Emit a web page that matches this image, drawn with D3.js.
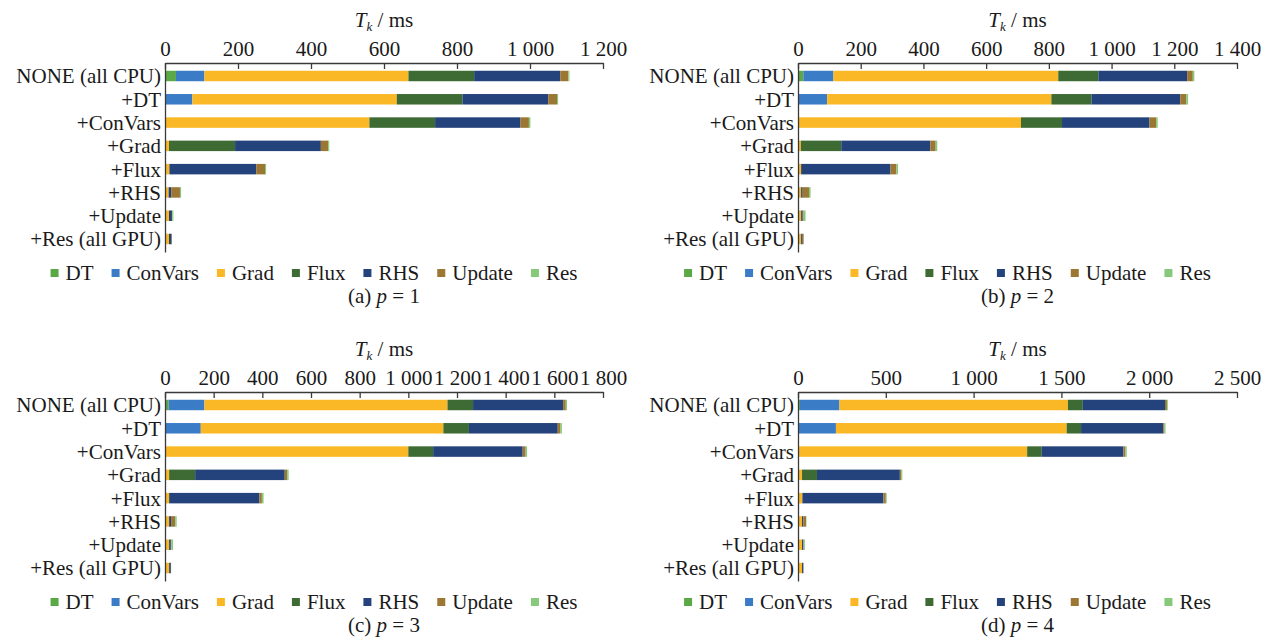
<!DOCTYPE html>
<html>
<head>
<meta charset="utf-8">
<script src="https://cdn.jsdelivr.net/npm/d3@7"></script>
<style>
  body { margin: 0; background: #fff; }
  svg text { font-family: "Liberation Serif", "Times New Roman", serif; fill: #1a1a1a; }
</style>
</head>
<body>
<svg id="chart" width="1271" height="638"></svg>
<script>
const CATEGORIES = ["NONE (all CPU)", "+DT", "+ConVars", "+Grad", "+Flux", "+RHS", "+Update", "+Res (all GPU)"];
const SERIES = ["DT", "ConVars", "Grad", "Flux", "RHS", "Update", "Res"];
const SERIES_COLORS = ["#5aa846", "#3b7cc6", "#fbb826", "#3d6b33", "#24427b", "#9c7633", "#86c97a"];

// one row per category: DT, ConVars, Grad, Flux, RHS, Update, Res (ms)
const VALUES_P1 = [
  [30, 78, 559, 180, 236, 22, 3],
  [0, 75, 560, 180, 235, 24, 3],
  [0, 0, 560, 180, 234, 23, 4],
  [0, 0, 11, 181, 235, 20, 3],
  [0, 0, 12, 0, 238, 24, 3],
  [0, 0, 10, 0, 7, 24, 3],
  [0, 0, 11, 0, 8, 1, 3],
  [0, 0, 11, 0, 7, 1, 0],
];
const VALUES_P2 = [
  [17, 96, 717, 128, 283, 18, 5],
  [0, 93, 715, 128, 283, 19, 6],
  [0, 0, 711, 131, 279, 21, 5],
  [0, 0, 9, 129, 284, 17, 5],
  [0, 0, 10, 0, 285, 19, 5],
  [0, 0, 10, 0, 5, 20, 5],
  [0, 0, 10, 0, 5, 3, 6],
  [0, 0, 10, 0, 5, 3, 0],
];
const VALUES_P3 = [
  [15, 147, 999, 105, 370, 11, 5],
  [0, 147, 997, 105, 365, 11, 6],
  [0, 0, 1000, 102, 368, 12, 6],
  [0, 0, 17, 107, 368, 10, 6],
  [0, 0, 17, 0, 371, 10, 7],
  [0, 0, 17, 0, 8, 17, 6],
  [0, 0, 17, 0, 7, 2, 7],
  [0, 0, 17, 0, 7, 1, 0],
];
const VALUES_P4 = [
  [11, 225, 1301, 85, 468, 11, 5],
  [0, 216, 1314, 82, 468, 7, 6],
  [0, 0, 1305, 83, 465, 12, 7],
  [0, 0, 23, 85, 472, 9, 5],
  [0, 0, 25, 0, 461, 14, 5],
  [0, 0, 23, 0, 7, 16, 2],
  [0, 0, 23, 0, 7, 3, 6],
  [0, 0, 23, 0, 7, 2, 0],
];

const TICKS_P1 = [0, 200, 400, 600, 800, 1000, 1200];
const TICKS_P2 = [0, 200, 400, 600, 800, 1000, 1200, 1400];
const TICKS_P3 = [0, 200, 400, 600, 800, 1000, 1200, 1400, 1600, 1800];
const TICKS_P4 = [0, 500, 1000, 1500, 2000, 2500];

const PANELS = [
  { letter: "a", p: 1, ticks: TICKS_P1, values: VALUES_P1, left: 165, right: 603, top: 63 },
  { letter: "b", p: 2, ticks: TICKS_P2, values: VALUES_P2, left: 798, right: 1237, top: 63 },
  { letter: "c", p: 3, ticks: TICKS_P3, values: VALUES_P3, left: 165, right: 603, top: 392 },
  { letter: "d", p: 4, ticks: TICKS_P4, values: VALUES_P4, left: 798, right: 1237, top: 392 },
];

const FONT_SIZE = 21;
const AXIS_COLOR = "#3a3a3a";
const formatTick = d3.formatLocale({ decimal: ".", thousands: " ", grouping: [3], currency: ["", ""] }).format(",d");

function styleAxisText(group) {
  group.attr("font-family", null).attr("font-size", null);
  group.selectAll("text").attr("font-size", FONT_SIZE).attr("fill", "#1a1a1a");
  group.selectAll("path, line").attr("stroke", AXIS_COLOR).attr("stroke-width", 1.3);
}

function renderLegend(svg, centerX, baselineY) {
  const legend = svg.append("g").attr("class", "legend");
  let cursor = 0;
  SERIES.forEach((name, i) => {
    legend
      .append("rect")
      .attr("x", cursor)
      .attr("y", baselineY - 11)
      .attr("width", 8)
      .attr("height", 8)
      .attr("fill", SERIES_COLORS[i]);
    const label = legend
      .append("text")
      .attr("x", cursor + 15)
      .attr("y", baselineY)
      .attr("font-size", FONT_SIZE)
      .text(name);
    cursor += 15 + label.node().getComputedTextLength() + 18;
  });
  const total = cursor - 18;
  legend.attr("transform", `translate(${centerX - total / 2}, 0)`);
}

function renderPanel(svg, panel) {
  const x = d3
    .scaleLinear()
    .domain([0, d3.max(panel.ticks)])
    .range([panel.left, panel.right]);

  const y = d3
    .scaleBand()
    .domain(CATEGORIES)
    .range([panel.top, panel.top + 189])
    .paddingInner(0.55)
    .paddingOuter(0.333);

  const rows = panel.values.map((vals, i) => {
    const row = { category: CATEGORIES[i] };
    SERIES.forEach((s, j) => (row[s] = vals[j]));
    return row;
  });
  const stacked = d3.stack().keys(SERIES)(rows);

  svg
    .append("g")
    .selectAll("g")
    .data(stacked)
    .join("g")
    .attr("fill", (d, i) => SERIES_COLORS[i])
    .selectAll("rect")
    .data((d) => d)
    .join("rect")
    .attr("x", (d) => x(d[0]))
    .attr("y", (d) => y(d.data.category))
    .attr("width", (d) => Math.max(0, x(d[1]) - x(d[0])))
    .attr("height", y.bandwidth());

  svg
    .append("g")
    .attr("transform", `translate(0, ${panel.top})`)
    .call(d3.axisTop(x).tickValues(panel.ticks).tickFormat(formatTick).tickSizeInner(-6).tickSizeOuter(0).tickPadding(7))
    .call(styleAxisText);

  svg
    .append("g")
    .attr("transform", `translate(${panel.left}, 0)`)
    .call(d3.axisLeft(y).tickSize(0).tickPadding(4))
    .call(styleAxisText)
    .call((group) => group.selectAll("text").attr("dy", "0.35em"));

  const centerX = (panel.left + panel.right) / 2;

  const title = svg
    .append("text")
    .attr("x", centerX)
    .attr("y", panel.top - 36)
    .attr("text-anchor", "middle")
    .attr("font-size", FONT_SIZE);
  title.append("tspan").attr("font-style", "italic").text("T");
  title.append("tspan").attr("font-style", "italic").attr("font-size", 13).attr("dy", 4).text("k");
  title.append("tspan").attr("dy", -4).text(" / ms");

  renderLegend(svg, centerX - 70, panel.top + 217);

  const caption = svg
    .append("text")
    .attr("x", centerX)
    .attr("y", panel.top + 240)
    .attr("text-anchor", "middle")
    .attr("font-size", FONT_SIZE);
  caption.append("tspan").text(`(${panel.letter}) `);
  caption.append("tspan").attr("font-style", "italic").text("p");
  caption.append("tspan").text(` = ${panel.p}`);
}

const svg = d3.select("#chart");
PANELS.forEach((panel) => renderPanel(svg, panel));
</script>
</body>
</html>
